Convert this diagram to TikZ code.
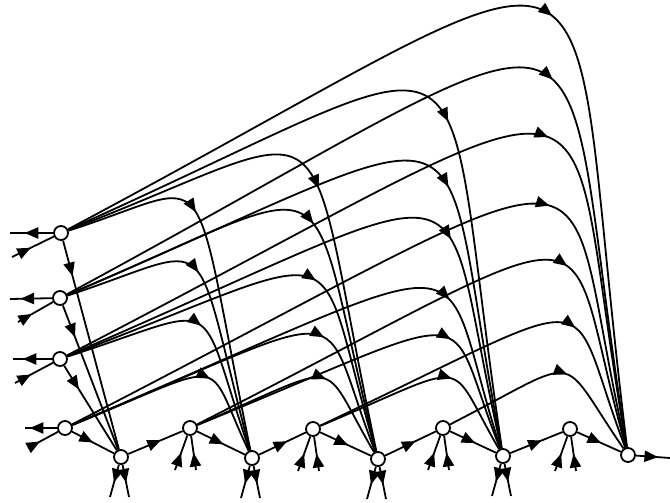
\documentclass[tikz,border=0pt]{standalone}
\usepackage{tikz}
\usetikzlibrary{calc}
\usetikzlibrary{arrows.meta}
\usetikzlibrary{decorations.markings}

\tikzset{
    vtx/.style={circle, draw, fill=white, line width=0.45mm, minimum size=3.5mm, inner sep=0pt},
    flow/.style={line width=0.45mm, postaction={decorate},
        decoration={markings, mark=at position #1 with {\arrow{Triangle[length=3.4mm, width=2.8mm]}}}},
    flow/.default=0.5
}

\begin{document}
\begin{tikzpicture}[x=0.25mm, y=-0.25mm]
    \useasboundingbox (0,0) rectangle (670,502);

    % left column
    \node[vtx] (L1) at (61,233) {};
    \node[vtx] (L2) at (60,298) {};
    \node[vtx] (L3) at (60,359) {};
    \node[vtx] (L4) at (65,428) {};

    % bottom row
    \node[vtx] (B1) at (121,457) {};
    \node[vtx] (M1) at (190,428) {};
    \node[vtx] (B2) at (252,458) {};
    \node[vtx] (M2) at (313,429) {};
    \node[vtx] (B3) at (378,459) {};
    \node[vtx] (M3) at (443,428) {};
    \node[vtx] (B4) at (503,456) {};
    \node[vtx] (M4) at (570,429) {};
    \node[vtx] (B5) at (628,455) {};

    \foreach \v/\ox/\oy/\op/\ix/\iy/\ip in {
        L1/10/233/0.66/12/257/0.45,
        L2/10/299/0.75/18/322/0.4,
        L3/13/359/0.75/15/383/0.42,
        L4/25/428/0.85/28/448/0.4} {
        \coordinate (\v-out) at (\ox,\oy);
        \coordinate (\v-in) at (\ix,\iy);
        \draw[flow=\op] (\v) -- (\v-out);
        \draw[flow=\ip] (\v-in) -- (\v);
    }

    \foreach \v/\p in {L1/0.17, L2/0.22, L3/0.28, L4/0.5}
        \draw[flow=\p] (\v) -- (B1);

    \draw[flow=0.6] (B1) -- (M1);
    \draw[flow=0.55] (M1) -- (B2);
    \draw[flow=0.6] (B2) -- (M2);
    \draw[flow=0.55] (M2) -- (B3);
    \draw[flow=0.6] (B3) -- (M3);
    \draw[flow=0.55] (M3) -- (B4);
    \draw[flow=0.6] (B4) -- (M4);
    \draw[flow=0.55] (M4) -- (B5);
    \coordinate (out) at (670,458);
    \draw[flow=0.65] (B5) -- (out);

    \foreach \b in {B1,B2,B3,B4} {
        \coordinate (\b-l) at ($(\b)+(-11,40)$);
        \coordinate (\b-r) at ($(\b)+(8,40)$);
        \draw[flow=0.55] (\b) -- (\b-l);
        \draw[flow=0.55] (\b) -- (\b-r);
    }
    \foreach \m in {M1,M2,M3,M4} {
        \coordinate (\m-l) at ($(\m)+(-15,42)$);
        \coordinate (\m-r) at ($(\m)+(6,42)$);
        \draw[flow=0.5] (\m-l) -- (\m);
        \draw[flow=0.5] (\m-r) -- (\m);
    }

    \foreach \s/\t/\kx/\ky/\p in {
        L1/B2/197/190/0.36, L1/B3/310/137/0.51, L1/B4/444/62/0.56, L1/B5/567/-36/0.55,
        L2/B2/198/253/0.43, L2/B3/312/192/0.53, L2/B4/442/135/0.61, L2/B5/560/28/0.59,
        L3/B2/203/313/0.51, L3/B3/320/260/0.59, L3/B4/443/194/0.66, L3/B5/565/98/0.62,
        L4/B2/210/369/0.64, L4/B3/324/320/0.68, L4/B4/442/268/0.72, L4/B5/563/172/0.67,
        M1/B3/326/370/0.61, M1/B4/450/322/0.69, M1/B5/567/236/0.68,
        M2/B4/453/370/0.62, M2/B5/572/307/0.68,
        M3/B5/566/365/0.58}
        \draw[flow=\p] (\s) .. controls ($(\s)!1.17!(\kx,\ky)$) and ($(\t)!1.17!(\kx,\ky)$) .. (\t);
\end{tikzpicture}
\end{document}
